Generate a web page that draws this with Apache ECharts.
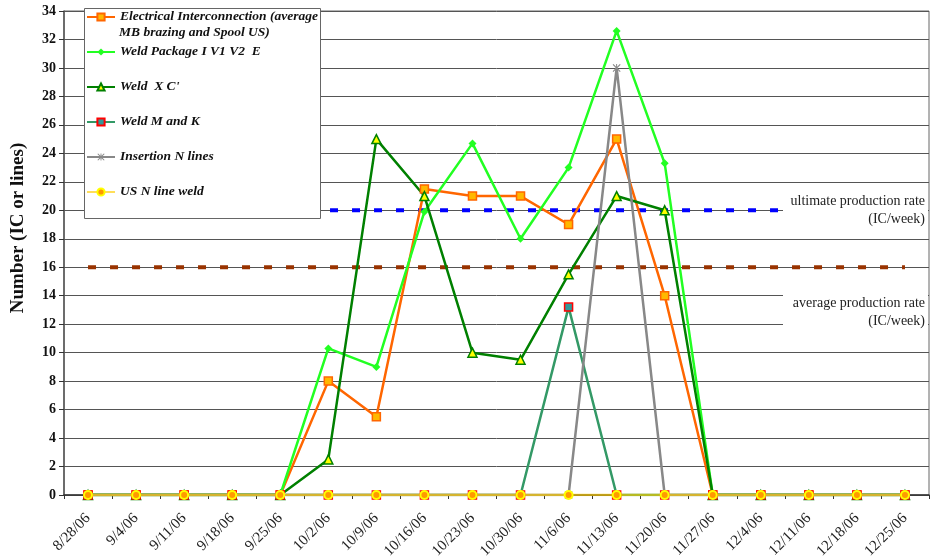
<!DOCTYPE html>
<html><head><meta charset="utf-8">
<script src="https://cdn.jsdelivr.net/npm/echarts@6/dist/echarts.min.js"></script>
<style>html,body{margin:0;padding:0;background:#fff}#c{width:930px;height:558px}</style>
</head><body><div id="c"></div>
<script>
const categories = ['8/28/06','9/4/06','9/11/06','9/18/06','9/25/06','10/2/06','10/9/06','10/16/06','10/23/06','10/30/06','11/6/06','11/13/06','11/20/06','11/27/06','12/4/06','12/11/06','12/18/06','12/25/06'];
const electrical = [0,0,0,0,0,8,5.5,21.5,21,21,19,25,14,0,0,0,0,0];
const weldPackage = [0,0,0,0,0,10.3,9,19.9,24.7,18,23,32.6,23.3,0,0,0,0,0];
const weldXC = [0,0,0,0,0,2.5,25,21,10,9.5,15.5,21,20,0,0,0,0,0];
const weldMK = [0,0,0,0,0,0,0,0,0,0,13.2,0,0,0,0,0,0,0];
const insertion = [0,0,0,0,0,0,0,0,0,0,0,30,0,0,0,0,0,0];
const usNLine = [0,0,0,0,0,0,0,0,0,0,0,0,0,0,0,0,0,0];
const ultimateRate = 20;
const averageRate = 16;
const yTicks = {min:0, max:34, interval:2};
const names = ['Electrical Interconnection (average','Weld Package I V1 V2  E',"Weld  X C'",'Weld M and K','Insertion N lines','US N line weld'];

const serif = '"Liberation Serif", "DejaVu Serif", serif';
const starPath = 'path://M1,0L5,4L9,0L10,1L6,5L10,9L9,10L5,6L1,10L0,9L4,5L0,1Z M4.4,0H5.6V10H4.4Z';

const chart = echarts.init(document.getElementById('c'), null, {renderer:'canvas'});
const legendCenters = [18, 53, 88, 123, 158, 193];
const legends = names.map((n,i)=>({
  data:[n], left:86, top:legendCenters[i]-8, orient:'vertical', padding:0, itemGap:0,
  itemWidth:28, itemHeight:9, selectedMode:false,
  textStyle:{fontFamily:serif, fontWeight:'bold', fontStyle:'italic', fontSize:13.5, color:'#111'}
}));
function lineSeries(name, data, color, width, symbol, size, fill, border, bw, op){
  return {name, type:'line', data, symbol, symbolSize:size, showSymbol:true,
    lineStyle:{color, width, opacity:op==null?1:op}, itemStyle:{color:fill, borderColor:border, borderWidth:bw},
    emphasis:{disabled:true}, z:2};
}
const series = [
  {name:'ultimate', type:'line', data:categories.map(()=>ultimateRate), symbol:'none',
   lineStyle:{color:'#0000FF', width:4, type:[8,14]}, z:1, emphasis:{disabled:true}},
  {name:'average', type:'line', data:categories.map(()=>averageRate), symbol:'none',
   lineStyle:{color:'#993300', width:4, type:[8,14]}, z:1, emphasis:{disabled:true}},
  lineSeries(names[0], electrical, '#FF6600', 2.5, 'rect', 8, '#FFB800', '#FF6600', 1.5),
  lineSeries(names[1], weldPackage, '#22FF22', 2.5, 'diamond', 8, '#22FF22', '#22FF22', 0),
  lineSeries(names[2], weldXC, '#008000', 2.5, 'triangle', 9, '#FFFF00', '#008000', 1.5),
  lineSeries(names[3], weldMK, '#339966', 2.5, 'rect', 8, '#339999', '#FF0000', 1.5),
  lineSeries(names[4], insertion, '#888888', 2.5, starPath, 8, '#888888', '#888888', 0),
  lineSeries(names[5], usNLine, '#FFCC00', 2.5, 'circle', 8, '#FF9900', '#FFFF00', 2, 0.65)
];
chart.setOption({
  animation:false,
  backgroundColor:'#fff',
  grid:{left:64, right:1, top:11, bottom:63, show:true, borderColor:'#666', borderWidth:1, outerBoundsMode:'none', containLabel:false},
  legend:legends,
  xAxis:{type:'category', data:categories, boundaryGap:true,
    axisLine:{lineStyle:{color:'#333', width:1.5}},
    axisTick:{show:true, length:4, lineStyle:{color:'#333'}},
    axisLabel:{interval:0, rotate:45, margin:21, fontFamily:serif, fontSize:15, color:'#222'},
    splitLine:{show:false}},
  yAxis:{type:'value', min:yTicks.min, max:yTicks.max, interval:yTicks.interval,
    axisLine:{show:true, lineStyle:{color:'#555', width:1.5}},
    axisTick:{show:true, length:5, lineStyle:{color:'#333'}},
    axisLabel:{margin:8, fontFamily:serif, fontWeight:'bold', fontSize:14, color:'#111'},
    splitLine:{show:true, lineStyle:{color:'#555', width:1}}},
  series,
  graphic:[
    {type:'rect', z:3, shape:{x:84.5, y:8.5, width:236, height:210}, style:{fill:'#fff', stroke:'#666', lineWidth:1}},
    {type:'text', z:5, x:119, y:33, style:{text:'MB brazing and Spool US)', font:'italic bold 13.5px '+serif, fill:'#111', verticalAlign:'middle'}},
    {type:'rect', z:3, shape:{x:783, y:192, width:145, height:36}, style:{fill:'#fff'}},
    {type:'text', z:5, x:925, y:201, style:{text:'ultimate production rate', font:'14px '+serif, fill:'#222', align:'right', verticalAlign:'middle'}},
    {type:'text', z:5, x:925, y:219, style:{text:'(IC/week)', font:'14px '+serif, fill:'#222', align:'right', verticalAlign:'middle'}},
    {type:'rect', z:3, shape:{x:783, y:284, width:145, height:52}, style:{fill:'#fff'}},
    {type:'text', z:5, x:925, y:303, style:{text:'average production rate', font:'14px '+serif, fill:'#222', align:'right', verticalAlign:'middle'}},
    {type:'text', z:5, x:925, y:321, style:{text:'(IC/week)', font:'14px '+serif, fill:'#222', align:'right', verticalAlign:'middle'}},
    {type:'text', z:5, x:18, y:228, rotation:Math.PI/2, style:{text:'Number (IC or lines)', font:'bold 19px '+serif, fill:'#111', align:'center', verticalAlign:'middle'}}
  ]
});
</script></body></html>
